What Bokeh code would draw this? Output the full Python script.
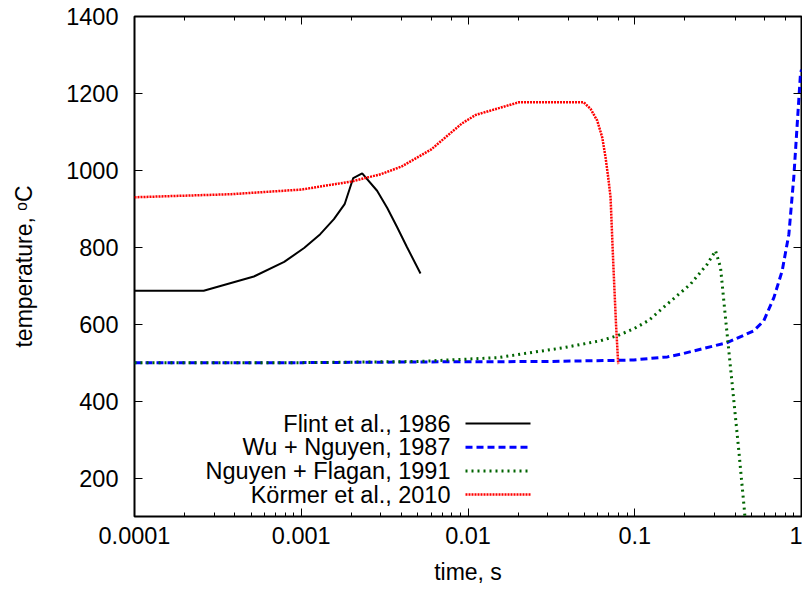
from bokeh.plotting import figure
from bokeh.models import (LogAxis, LinearAxis, FixedTicker, LogTicker, Label, Arrow,
                          CustomJSTickFormatter)
from bokeh.embed import file_html
from bokeh.resources import INLINE

# ---- data ----
flint_t = [1.0e-4, 2.6e-4, 5.2e-4, 7.9e-4, 1.04e-3, 1.30e-3, 1.57e-3, 1.82e-3, 2.05e-3,
           2.32e-3, 2.85e-3, 3.28e-3, 3.76e-3, 4.31e-3, 5.19e-3]
flint_T = [687, 687, 724, 762, 798, 834, 873, 912, 980, 992, 947, 902, 852, 800, 732]

wu_t = [1e-4, 1e-3, 6e-3, 0.03, 0.0785, 0.0987, 0.157, 0.197, 0.248, 0.358, 0.518,
        0.594, 0.683, 0.766, 0.84, 0.899, 0.94, 0.986, 1.0]
wu_T = [500, 500, 502, 503, 506, 507, 515, 524, 535, 552, 583,
        609, 669, 739, 834, 982, 1112, 1251, 1262]

nguyen_t = [1e-4, 1e-3, 5e-3, 0.015, 0.0376, 0.0623, 0.0785, 0.0987, 0.1214, 0.1565,
            0.2158, 0.272, 0.305, 0.327, 0.35, 0.384, 0.421, 0.455, 0.465]
nguyen_T = [500, 500, 503, 513, 539, 557, 570, 588, 610, 652,
            704, 756, 791, 747, 617, 444, 270, 114, 60]

kormer_t = [1e-4, 3.8e-4, 1e-3, 2e-3, 3e-3, 4e-3, 6e-3, 9.2e-3, 0.0111, 0.0202, 0.0494,
            0.0543, 0.0596, 0.0638, 0.0668, 0.0693, 0.0716, 0.0743, 0.0772, 0.0796]
kormer_T = [930, 938, 950, 971, 990, 1010, 1054, 1122, 1144, 1177, 1177,
            1160, 1129, 1086, 1034, 982, 930, 760, 600, 496]

series_names = ["Flint et al., 1986", "Wu + Nguyen, 1987", "Nguyen + Flagan, 1991",
                "Körmer et al., 2010"]
y_ticks = [200, 400, 600, 800, 1000, 1200, 1400]

FONT = "Liberation Sans"
FS_TICK = "23.5px"
FS_LABEL = "23px"
FS_KEY = "23.5px"

p = figure(width=802, height=593, x_axis_type="log", x_range=(1e-4, 1), y_range=(100, 1400),
           output_backend="svg", toolbar_location=None,
           min_border_left=134, min_border_right=1, min_border_top=16, min_border_bottom=77)
p.background_fill_color = "white"
p.border_fill_color = "white"
p.outline_line_color = "black"
p.outline_line_width = 2
p.xgrid.visible = False
p.ygrid.visible = False

xa = p.xaxis[0]
xa.formatter = CustomJSTickFormatter(code="return String(Number(tick.toPrecision(6)))")
ya = p.yaxis[0]
ya.ticker = FixedTicker(ticks=y_ticks)

for ax in (xa, ya):
    ax.axis_line_color = None
    ax.major_tick_in = 8
    ax.major_tick_out = 0
    ax.minor_tick_in = 4
    ax.minor_tick_out = 0
    ax.major_tick_line_color = "black"
    ax.minor_tick_line_color = "black"
    ax.major_label_text_font = FONT
    ax.major_label_text_font_size = FS_TICK
    ax.major_label_text_color = "black"
    ax.axis_label_text_font = FONT
    ax.axis_label_text_font_size = FS_LABEL
    ax.axis_label_text_font_style = "normal"
    ax.axis_label_text_color = "black"
ya.minor_tick_line_color = None
xa.axis_label = "time, s"
ya.axis_label = "temperature, ᵒC"
xa.major_label_standoff = 10
xa.axis_label_standoff = 12
ya.major_label_standoff = 16
ya.axis_label_standoff = 26

# mirror axes (ticks only)
top = LogAxis(ticker=LogTicker())
right = LinearAxis(ticker=FixedTicker(ticks=y_ticks))
for ax in (top, right):
    ax.axis_line_color = None
    ax.major_tick_in = 8
    ax.major_tick_out = 0
    ax.minor_tick_in = 4
    ax.minor_tick_out = 0
    ax.major_label_text_font_size = "0px"
    ax.major_label_standoff = 0
    ax.major_label_text_color = None
right.minor_tick_line_color = None
p.add_layout(top, "above")
p.add_layout(right, "right")

styles = [
    dict(line_color="black", line_width=2),
    dict(line_color="#0000ff", line_width=3, line_dash="7 4"),
    dict(line_color="#006400", line_width=3, line_dash="2 4"),
    dict(line_color="#ff0000", line_width=2.5, line_dash="2 1"),
]
data = [(flint_t, flint_T), (wu_t, wu_T), (nguyen_t, nguyen_T), (kormer_t, kormer_T)]

for (t, T), st in zip(data, styles):
    p.line(t, T, **st)

# gnuplot-style key: text right-aligned, sample on the right
key_text_x = 316
key_x0, key_x1 = 331, 396
key_y0, key_dy = 93, 23.7
for i, (name, st) in enumerate(zip(series_names, styles)):
    yy = key_y0 - i * key_dy
    p.add_layout(Label(x=key_text_x, y=yy, x_units="screen", y_units="screen", text=name,
                       text_align="right", text_baseline="middle", text_font=FONT,
                       text_font_size=FS_KEY, text_color="black"))
    p.add_layout(Arrow(x_start=key_x0, y_start=yy, x_end=key_x1, y_end=yy,
                       start_units="screen", end_units="screen", end=None, **st))

open("out.html", "w").write(file_html(p, INLINE))
